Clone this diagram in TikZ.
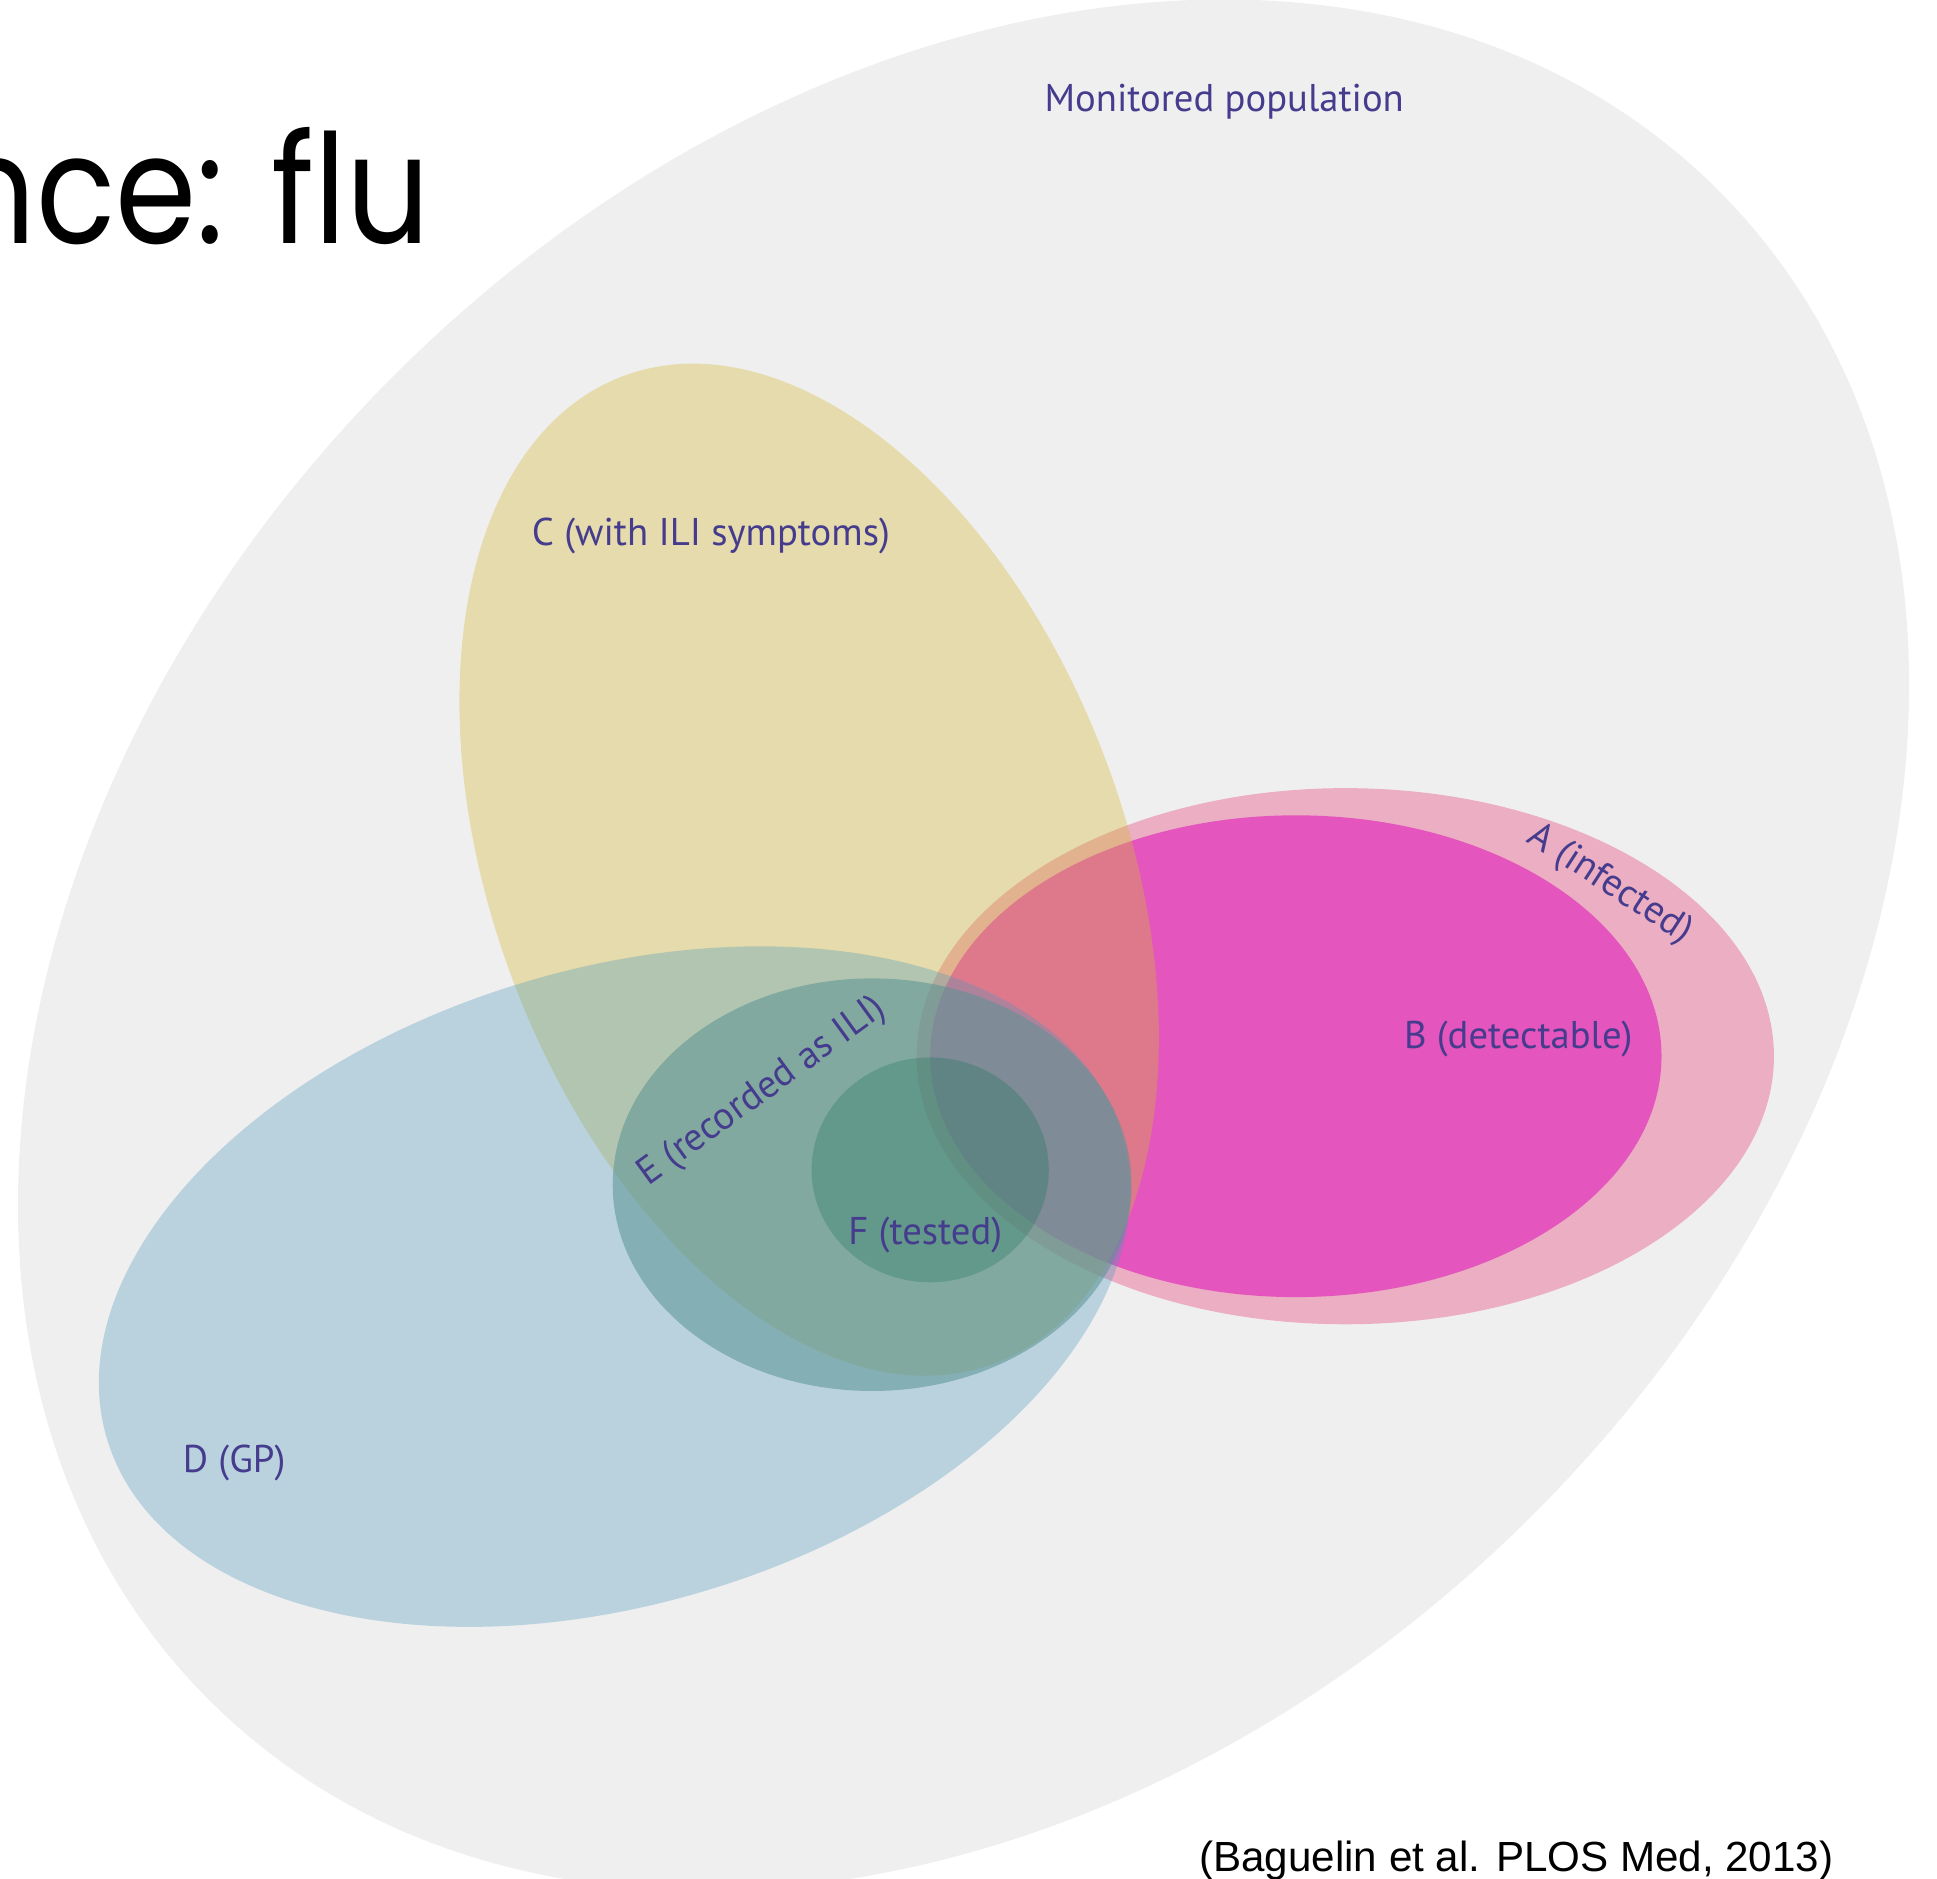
\documentclass[tikz,border=0pt]{standalone}
\usepackage{fontspec}
\setmainfont{PT Sans}
\newfontfamily\titlefont[FakeStretch=0.86]{Poppins}
\newfontfamily\citefont{Liberation Sans}

\definecolor{popgray}{HTML}{EFEFEF}
\definecolor{infpink}{HTML}{EBAEC2}
\definecolor{detmagenta}{HTML}{E455BD}
\definecolor{ilimustard}{HTML}{D4B93A}
\definecolor{gpblue}{HTML}{4997BD}
\definecolor{recteal}{HTML}{5A9392}
\definecolor{testgreen}{HTML}{1B755A}
\definecolor{labelblue}{HTML}{463C8E}

\tikzset{
  setlabel/.style={text=labelblue,inner sep=0pt,font=\fontsize{8.9}{10}\selectfont},
  setC/.style={fill=ilimustard,fill opacity=0.37},
  setD/.style={fill=gpblue,fill opacity=0.32},
  setE/.style={fill=recteal,fill opacity=0.55},
  setF/.style={fill=testgreen,fill opacity=0.3}
}

\begin{document}
\begin{tikzpicture}[x=0.01cm,y=-0.01cm]

\useasboundingbox (0,0) rectangle (1568,1521);
\fill[white] (0,0) rectangle (1568,1521);

\fill[popgray,rotate around={45:(780,765)}] (780,765) ellipse [x radius=864,y radius=652];

\fill[infpink] (1089,855) ellipse [x radius=347,y radius=217];
\fill[detmagenta] (1049,855) ellipse [x radius=296,y radius=195];

\fill[setC,rotate around={-69.3:(655,704)}] (655,704) ellipse [x radius=427,y radius=256];
\fill[setD,rotate around={16.75:(497.5,1041.5)}] (497.5,1041.5) ellipse [x radius=429,y radius=257];
\fill[setE] (706,959) ellipse [x radius=210,y radius=167];
\fill[setF] (753,947) ellipse [x radius=96,y radius=91];

\node[anchor=base east,inner sep=0pt,font=\titlefont\fontsize{35}{40}\selectfont] (title) at (349,197) {nce: flu};

\node[setlabel] (monitored) at (991,82) {Monitored population};
\node[setlabel] (symptoms) at (575.5,434) {C (with ILI symptoms)};
\node[setlabel,rotate=-33] (infected) at (1303,716) {A (infected)};
\node[setlabel] (detectable) at (1229,841) {B (detectable)};
\node[setlabel,rotate=36] (recorded) at (617,884) {E (recorded as ILI)};
\node[setlabel] (tested) at (749,1000) {F (tested)};
\node[setlabel] (gp) at (189.5,1184) {D (GP)};

\node[anchor=base,inner sep=0pt,font=\citefont\fontsize{9.7}{11}\selectfont] (citation) at (1227.5,1515) {(Baguelin et al. PLOS Med, 2013)};

\end{tikzpicture}
\end{document}
